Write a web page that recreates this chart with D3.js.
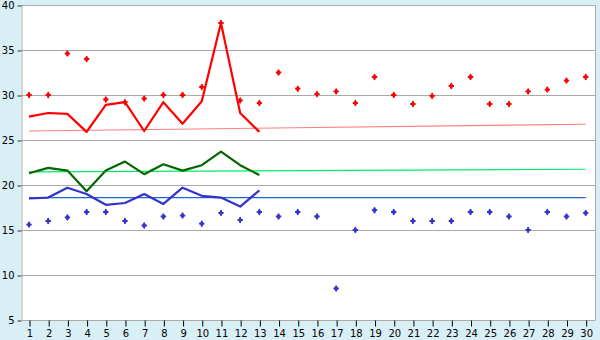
<!DOCTYPE html>
<meta charset="utf-8">
<script src="https://d3js.org/d3.v7.min.js"></script>
<style>
  body { margin: 0; background: #d9eff6; }
  text { font-family: "DejaVu Sans", Verdana, sans-serif; font-size: 10px; fill: #000; }
</style>
<div id="chart"></div>
<script>
// days on the x axis
var days = d3.range(1, 31);
var yTicks = [5, 10, 15, 20, 25, 30, 35, 40];

// daily maximum markers (red)
var redPoints = [30, 30, 34.6, 34.0, 29.5, 29.2, 29.6, 30, 30, 30.9, 38.0, 29.4, 29.1, 32.5, 30.7,
                 30.1, 30.4, 29.1, 32.0, 30.0, 29.0, 29.9, 31.0, 32.0, 29.0, 29.0, 30.4, 30.6, 31.6, 32.0];
// daily minimum markers (blue)
var bluePoints = [15.6, 16.0, 16.4, 17.0, 17.0, 16.0, 15.5, 16.5, 16.6, 15.7, 16.9, 16.1, 17.0, 16.5, 17.0,
                  16.5, 8.5, 15.0, 17.2, 17.0, 16.0, 16.0, 16.0, 17.0, 17.0, 16.5, 15.0, 17.0, 16.5, 16.9];

// thick lines, days 1-13
var redLine = [27.6, 28.0, 27.9, 25.9, 28.9, 29.2, 26.0, 29.2, 26.8, 29.3, 38.0, 28.0, 25.9];
var greenLine = [21.3, 21.9, 21.6, 19.3, 21.6, 22.6, 21.2, 22.3, 21.6, 22.2, 23.7, 22.2, 21.1];
var blueLine = [18.5, 18.6, 19.7, 19.0, 17.8, 18.0, 19.0, 17.9, 19.7, 18.8, 18.6, 17.6, 19.4];

// thin reference lines (value at day 1 and day 30)
var redTrend = [26.0, 26.75];
var greenTrend = [21.45, 21.75];
var blueTrend = [18.6, 18.6];

var W = 600, H = 340;
var svg = d3.select("#chart").append("svg")
    .attr("width", W).attr("height", H);

var x = d3.scalePoint().domain(days).range([29, 585.7]);
var y = d3.scaleLinear().domain([5, 40]).range([320, 5]);

// plot background
svg.append("rect")
    .attr("x", 21).attr("y", 5)
    .attr("width", 574).attr("height", 315)
    .attr("fill", "#fff");

// gridlines
svg.selectAll(".grid")
  .data(yTicks.slice(1))
  .enter().append("line")
    .attr("x1", 21).attr("x2", 595)
    .attr("y1", function(d) { return Math.round(y(d)) + 0.5; })
    .attr("y2", function(d) { return Math.round(y(d)) + 0.5; })
    .attr("stroke", "#aaaaaa");

// right border
svg.append("line")
    .attr("x1", 595.5).attr("x2", 595.5).attr("y1", 5).attr("y2", 320)
    .attr("stroke", "#aaaaaa");

// Y axis
var yAxis = svg.append("g")
    .attr("transform", "translate(21.5,0.5)")
    .call(d3.axisLeft(y).tickValues(yTicks).tickSize(4).tickPadding(3).tickSizeOuter(0));
yAxis.select("path").attr("stroke", "#aaaaaa");
yAxis.selectAll("line").attr("stroke", "#333");
yAxis.selectAll("text").style("font-size", "10px").attr("fill", "#000");

// X axis
var xAxis = svg.append("g")
    .attr("transform", "translate(0.5,320.5)")
    .call(d3.axisBottom(x).tickSize(6).tickPadding(3).tickSizeOuter(0));
xAxis.select("path").attr("d", "M20.5,0H595").attr("stroke", "#aaaaaa");
xAxis.selectAll("line").attr("stroke", "#000");
xAxis.selectAll("text").style("font-size", "10px").attr("fill", "#000");

// thin trend lines
function trend(vals, color) {
  svg.append("line")
    .attr("x1", x(1)).attr("x2", x(30))
    .attr("y1", y(vals[0])).attr("y2", y(vals[1]))
    .attr("stroke", color).attr("stroke-width", 1.2);
}
trend(redTrend, "#ff7f7f");
trend(greenTrend, "#00ee66");
trend(blueTrend, "#1f66d0");

// thick lines
var line = d3.line()
    .x(function(d, i) { return x(i + 1); })
    .y(function(d) { return y(d); });

function thick(vals, color) {
  svg.append("path")
    .datum(vals)
    .attr("d", line)
    .attr("fill", "none")
    .attr("stroke", color)
    .attr("stroke-width", 2.2)
    .attr("stroke-linejoin", "round");
}
thick(redLine, "#ff0000");
thick(greenLine, "#006600");
thick(blueLine, "#3333cc");

// markers: small cross with a filled diamond centre
var cross = d3.symbol().type(d3.symbolCross).size(16);
var diamond = d3.symbol().type(d3.symbolDiamond).size(14);
function markers(vals, color) {
  var g = svg.append("g").selectAll("g")
    .data(vals)
    .enter().append("g")
      .attr("transform", function(d, i) { return "translate(" + x(i + 1) + "," + y(d) + ")"; })
      .attr("fill", color);
  g.append("path").attr("d", cross);
  g.append("path").attr("d", diamond);
}
markers(redPoints, "#ff0000");
markers(bluePoints, "#3333cc");
</script>
